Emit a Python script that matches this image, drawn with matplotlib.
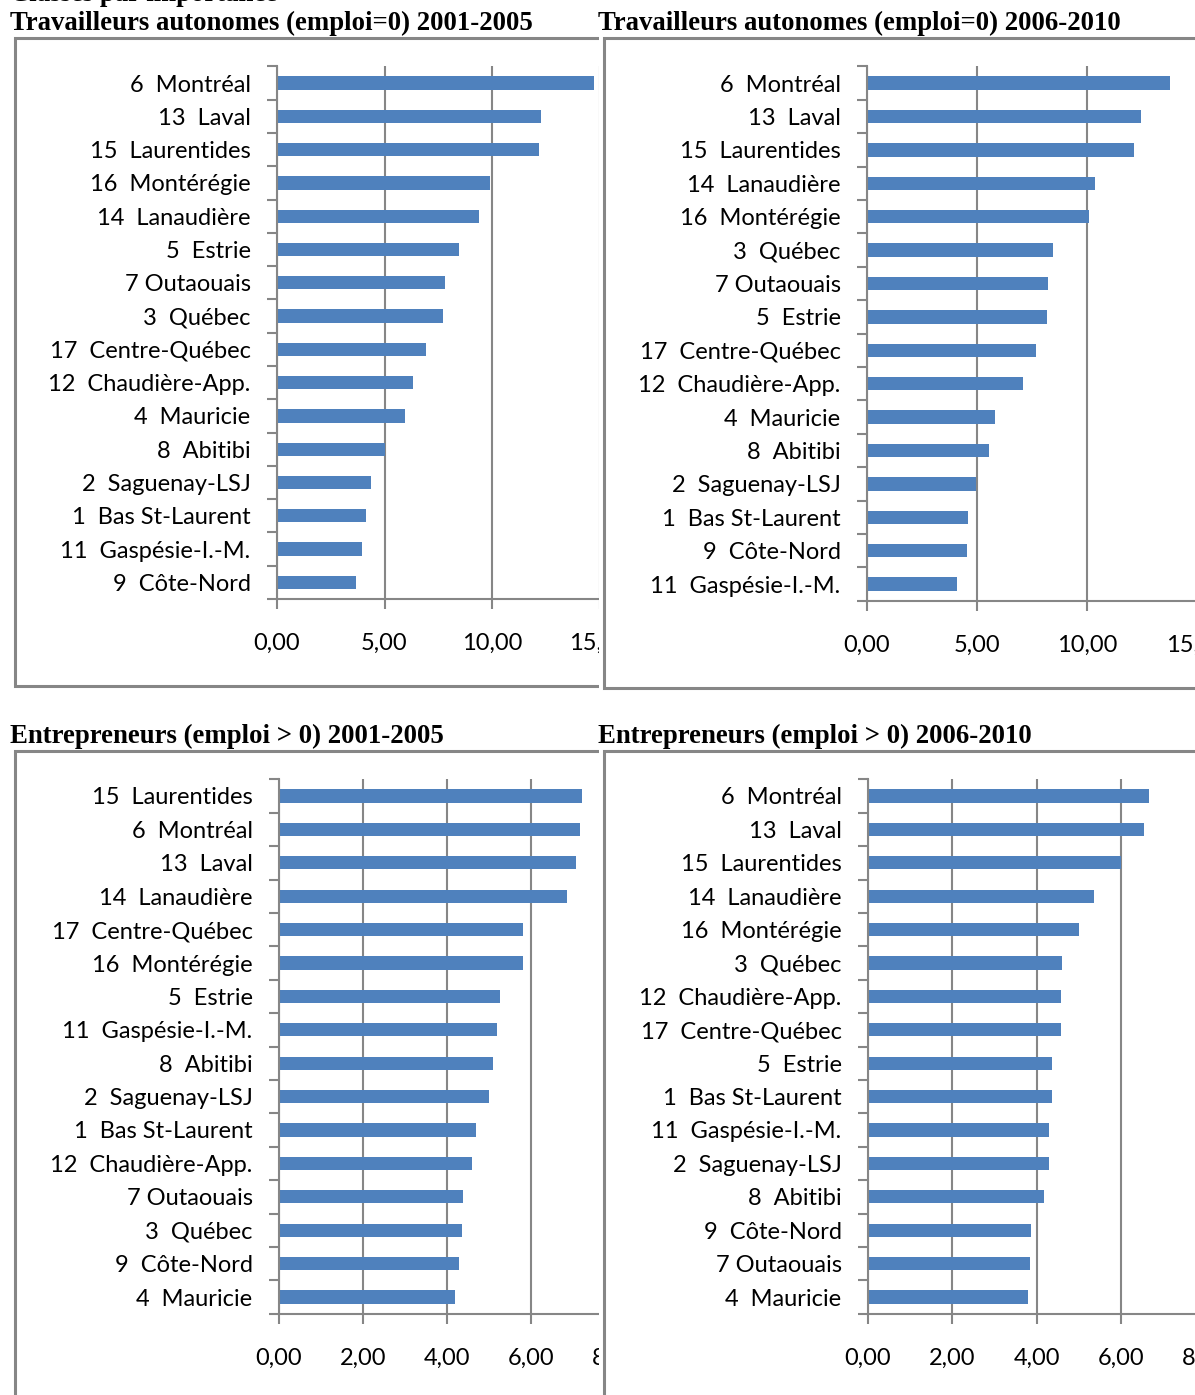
import matplotlib
matplotlib.use("Agg")
import matplotlib.pyplot as plt
from matplotlib.patches import Rectangle
from matplotlib.ticker import FixedLocator

# ---------------- data ----------------
ta_2001_labels = ["6  Montréal", "13  Laval", "15  Laurentides", "16  Montérégie", "14  Lanaudière",
                  "5  Estrie", "7 Outaouais", "3  Québec", "17  Centre-Québec", "12  Chaudière-App.",
                  "4  Mauricie", "8  Abitibi", "2  Saguenay-LSJ", "1  Bas St-Laurent",
                  "11  Gaspésie-I.-M.", "9  Côte-Nord"]
ta_2001_values = [14.74, 12.28, 12.17, 9.91, 9.40, 8.47, 7.81, 7.72, 6.93, 6.33,
                  5.95, 5.02, 4.37, 4.14, 3.95, 3.68]

ta_2006_labels = ["6  Montréal", "13  Laval", "15  Laurentides", "14  Lanaudière", "16  Montérégie",
                  "3  Québec", "7 Outaouais", "5  Estrie", "17  Centre-Québec", "12  Chaudière-App.",
                  "4  Mauricie", "8  Abitibi", "2  Saguenay-LSJ", "1  Bas St-Laurent",
                  "9  Côte-Nord", "11  Gaspésie-I.-M."]
ta_2006_values = [13.79, 12.47, 12.15, 10.38, 10.10, 8.46, 8.24, 8.19, 7.69, 7.10,
                  5.83, 5.54, 4.95, 4.58, 4.55, 4.08]

ent_2001_labels = ["15  Laurentides", "6  Montréal", "13  Laval", "14  Lanaudière", "17  Centre-Québec",
                   "16  Montérégie", "5  Estrie", "11  Gaspésie-I.-M.", "8  Abitibi", "2  Saguenay-LSJ",
                   "1  Bas St-Laurent", "12  Chaudière-App.", "7 Outaouais", "3  Québec",
                   "9  Côte-Nord", "4  Mauricie"]
ent_2001_values = [7.21, 7.16, 7.06, 6.85, 5.80, 5.80, 5.25, 5.20, 5.09, 4.99,
                   4.68, 4.59, 4.37, 4.35, 4.28, 4.18]

ent_2006_labels = ["6  Montréal", "13  Laval", "15  Laurentides", "14  Lanaudière", "16  Montérégie",
                   "3  Québec", "12  Chaudière-App.", "17  Centre-Québec", "5  Estrie",
                   "1  Bas St-Laurent", "11  Gaspésie-I.-M.", "2  Saguenay-LSJ", "8  Abitibi",
                   "9  Côte-Nord", "7 Outaouais", "4  Mauricie"]
ent_2006_values = [6.65, 6.53, 6.00, 5.35, 4.99, 4.59, 4.57, 4.57, 4.35, 4.35,
                   4.28, 4.28, 4.16, 3.86, 3.83, 3.78]

titles = ["Travailleurs autonomes (emploi=0) 2001-2005",
          "Travailleurs autonomes (emploi=0) 2006-2010",
          "Entrepreneurs (emploi > 0) 2001-2005",
          "Entrepreneurs (emploi > 0) 2006-2010"]
top_text = "Classés par importance"

x_ticks_ta = [0, 5, 10, 15]
x_ticks_ent = [0, 2, 4, 6, 8]

# ---------------- styling ----------------
W, H = 1195, 1395
BAR = "#4F81BD"
GRAY = "#868686"
LABEL_FONT = ["Lato", "DejaVu Sans"]
TITLE_FONT = ["Liberation Serif", "DejaVu Serif"]
LABEL_SIZE = 17

fig = plt.figure(figsize=(W / 100, H / 100), dpi=100)


def rect_px(x0, y0, x1, y1):
    return [x0 / W, 1 - y1 / H, (x1 - x0) / W, (y1 - y0) / H]


def frame(x0, y0, x1, y1, z):
    r = Rectangle((x0 / W, 1 - y1 / H), (x1 - x0) / W, (y1 - y0) / H,
                  transform=fig.transFigure, facecolor="white",
                  edgecolor=GRAY, linewidth=2.2, zorder=z)
    fig.add_artist(r)


def panel(box, labels, values, xticks, z):
    ax = fig.add_axes(rect_px(*box), zorder=z)
    ax.set_facecolor("none")
    n = len(labels)
    pos = list(range(n))
    ax.barh(pos, values, height=0.4, color=BAR, zorder=3)
    ax.set_xlim(xticks[0], xticks[-1])
    ax.set_ylim(n - 0.5, -0.5)
    ax.set_yticks(pos)
    ax.set_yticklabels(labels, fontfamily=LABEL_FONT, fontsize=LABEL_SIZE, color="black")
    ax.yaxis.set_minor_locator(FixedLocator([i - 0.5 for i in range(n + 1)]))
    ax.tick_params(axis="y", which="major", length=0, pad=19)
    ax.tick_params(axis="y", which="minor", length=7, width=1.5, color=GRAY, direction="out")
    ax.set_xticks(xticks)
    ax.set_xticklabels([("%.2f" % t).replace(".", ",") for t in xticks],
                       fontfamily=LABEL_FONT, fontsize=LABEL_SIZE, color="black")
    ax.tick_params(axis="x", which="major", length=7, width=1.5, color=GRAY,
                   direction="out", pad=17.5)
    ax.grid(axis="x", color=GRAY, linewidth=1.5, zorder=1)
    ax.set_axisbelow(True)
    for s in ("top", "right"):
        ax.spines[s].set_visible(False)
    for s in ("left", "bottom"):
        ax.spines[s].set_color(GRAY)
        ax.spines[s].set_linewidth(1.5)
    ax.spines["left"].set_zorder(4)
    return ax


# left column
frame(15, 38, 601, 686, 0.5)
frame(15, 751, 601, 1420, 0.5)
panel((277, 66.4, 599.5, 599), ta_2001_labels, ta_2001_values, x_ticks_ta, 1)
panel((279, 779.3, 615, 1313.7), ent_2001_labels, ent_2001_values, x_ticks_ent, 1)

# white gap between columns
fig.add_artist(Rectangle((599 / W, 0), 5 / W, 1, transform=fig.transFigure,
                         facecolor="white", edgecolor="none", zorder=2))

# right column
frame(604, 38, 1230, 688, 3)
frame(604, 751, 1230, 1420, 3)
panel((867, 66.4, 1196.6, 600.7), ta_2006_labels, ta_2006_values, x_ticks_ta, 4)
panel((868, 779.3, 1205.6, 1313.7), ent_2006_labels, ent_2006_values, x_ticks_ent, 4)

# titles
title_pos = [(10, 30), (598, 30), (10, 743), (598, 743)]
for t, (x, y) in zip(titles, title_pos):
    fig.text(x / W, 1 - y / H, t, fontfamily=TITLE_FONT, fontweight="bold",
             fontsize=19.3, ha="left", va="baseline", zorder=6)
fig.text(10 / W, 1 - 1 / H, top_text, fontfamily=TITLE_FONT, fontweight="bold",
         fontsize=19.3, ha="left", va="baseline", zorder=6)

fig.savefig("out.png", dpi=100)
